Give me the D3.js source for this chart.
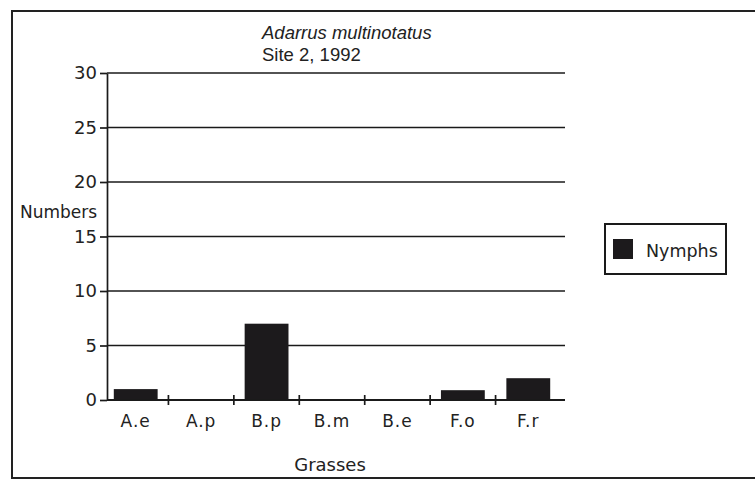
<!DOCTYPE html>
<meta charset="utf-8">
<script src="https://d3js.org/d3.v7.min.js"></script>
<style>
  body { margin: 0; background: #fff; }
  text { fill: #222; }
</style>
<body>
<div id="graph"></div>
<script>
  // data
  var grasses = ["A.e", "A.p", "B.p", "B.m", "B.e", "F.o", "F.r"];
  var nymphs = [1, 0, 7, 0, 0, 0.9, 2];
  var yTicks = [0, 5, 10, 15, 20, 25, 30];
  var seriesName = "Nymphs";

  var svg = d3.select("#graph")
    .append("svg")
    .attr("width", 755)
    .attr("height", 480);

  // outer frame (right edge runs off the picture)
  svg.append("rect")
    .attr("x", 12).attr("y", 11)
    .attr("width", 760).attr("height", 467)
    .attr("fill", "none")
    .attr("stroke", "#222")
    .attr("stroke-width", 2);

  var plotLeft = 107, plotRight = 565, plotTop = 73, plotBottom = 400;

  // bands sit a little left of the axis line, as in the original
  var x = d3.scaleBand()
    .domain(grasses)
    .range([plotLeft - 4, plotRight - 4])
    .paddingInner(0.33)
    .paddingOuter(0.165);

  var y = d3.scaleLinear().domain([0, 30]).range([plotBottom, plotTop]);

  // gridlines
  svg.append("g")
    .selectAll("line")
    .data(yTicks)
    .enter().append("line")
    .attr("x1", plotLeft).attr("x2", plotRight)
    .attr("y1", function (d) { return y(d); })
    .attr("y2", function (d) { return y(d); })
    .attr("stroke", "#1a1a1a")
    .attr("stroke-width", 1.7);

  // bars
  svg.append("g")
    .selectAll("rect")
    .data(nymphs)
    .enter().append("rect")
    .attr("x", function (d, i) { return x(grasses[i]); })
    .attr("width", x.bandwidth())
    .attr("y", function (d) { return y(d); })
    .attr("height", function (d) { return plotBottom - y(d); })
    .attr("fill", "#1c1a1c");

  // y axis
  var yAxis = d3.axisLeft(y).tickValues(yTicks).tickSize(7).tickSizeOuter(0).tickPadding(3);
  var gy = svg.append("g")
    .attr("transform", "translate(" + plotLeft + ",0)")
    .call(yAxis);
  gy.select(".domain").attr("stroke", "#1a1a1a").attr("stroke-width", 1.7);
  gy.selectAll(".tick line").attr("stroke", "#1a1a1a").attr("stroke-width", 1.7);
  gy.selectAll(".tick text")
    .attr("font-family", "DejaVu Sans")
    .attr("font-size", 18)
    .attr("fill", "#222");

  // x axis: ticks between categories, crossing the line
  var gx = svg.append("g");
  gx.append("line")
    .attr("x1", plotLeft).attr("x2", plotRight)
    .attr("y1", plotBottom).attr("y2", plotBottom)
    .attr("stroke", "#1a1a1a").attr("stroke-width", 1.8);
  gx.selectAll(".sep")
    .data(grasses.slice(1))
    .enter().append("line")
    .attr("class", "sep")
    .attr("x1", function (d) { return x(d) - x.step() * x.paddingInner() / 2; })
    .attr("x2", function (d) { return x(d) - x.step() * x.paddingInner() / 2; })
    .attr("y1", plotBottom - 5).attr("y2", plotBottom + 5)
    .attr("stroke", "#1a1a1a").attr("stroke-width", 1.7);
  gx.selectAll(".lab")
    .data(grasses)
    .enter().append("text")
    .attr("class", "lab")
    .attr("x", function (d) { return x(d) + x.bandwidth() / 2; })
    .attr("y", 427)
    .attr("text-anchor", "middle")
    .attr("font-family", "DejaVu Sans")
    .attr("font-size", 17)
    .attr("letter-spacing", 1)
    .text(function (d) { return d; });

  // titles
  svg.append("text")
    .attr("x", 262).attr("y", 39)
    .attr("font-family", "Liberation Sans")
    .attr("font-style", "italic")
    .attr("font-size", 18.5)
    .text("Adarrus multinotatus");
  svg.append("text")
    .attr("x", 262).attr("y", 61)
    .attr("font-family", "Liberation Sans")
    .attr("font-size", 18.5)
    .text("Site 2, 1992");

  svg.append("text")
    .attr("x", 20).attr("y", 218)
    .attr("font-family", "DejaVu Sans")
    .attr("font-size", 17)
    .text("Numbers");

  svg.append("text")
    .attr("x", 330).attr("y", 471)
    .attr("text-anchor", "middle")
    .attr("font-family", "DejaVu Sans")
    .attr("font-size", 18)
    .text("Grasses");

  // legend
  var lg = svg.append("g").attr("transform", "translate(605,224)");
  lg.append("rect")
    .attr("width", 121).attr("height", 50)
    .attr("fill", "none")
    .attr("stroke", "#1a1a1a").attr("stroke-width", 2);
  lg.append("rect")
    .attr("x", 8).attr("y", 15)
    .attr("width", 20).attr("height", 20)
    .attr("fill", "#1c1a1c");
  lg.append("text")
    .attr("x", 41).attr("y", 33)
    .attr("font-family", "DejaVu Sans")
    .attr("font-size", 17.5)
    .text(seriesName);
</script>
</body>
